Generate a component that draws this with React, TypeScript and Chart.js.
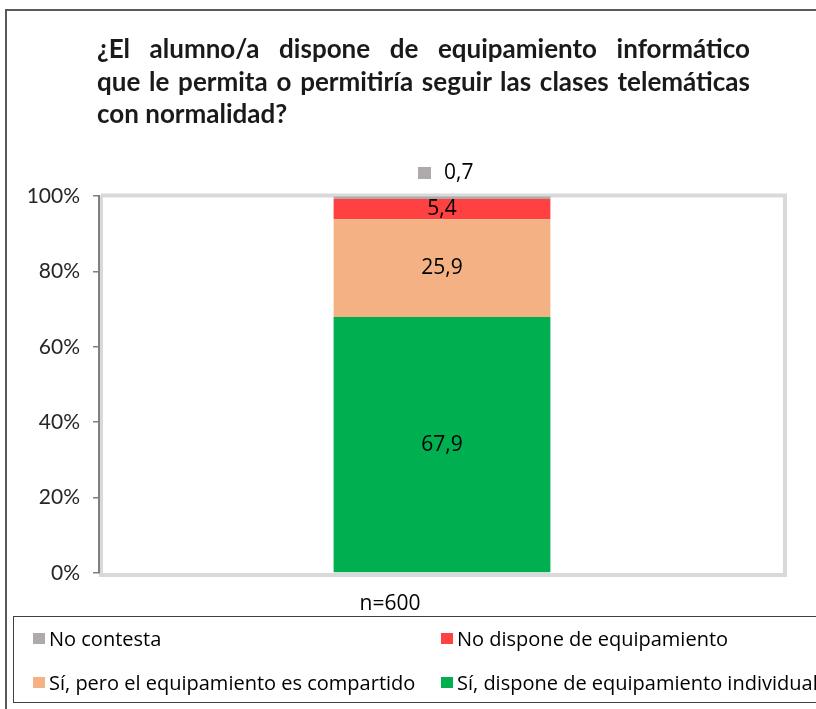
import React, { useEffect, useRef } from "react";
import { Chart, registerables } from "chart.js";

Chart.register(...registerables);

// ---- Data ----
const categories = ["n=600"];
const titleLines = [
  "¿El alumno/a dispone de equipamiento informático",
  "que le permita o permitiría seguir las clases telemáticas",
  "con normalidad?",
];
// stack order bottom -> top
const seriesLabels = [
  "Sí, dispone de equipamiento individual",
  "Sí, pero el equipamiento es compartido",
  "No dispone de equipamiento",
  "No contesta",
];
const individualValues = [67.9];
const compartidoValues = [25.9];
const noDisponeValues = [5.4];
const noContestaValues = [0.7];
const seriesColors = ["#00B050", "#F4B183", "#FF4141", "#AEAAAA"];
const yTickValues = [0, 20, 40, 60, 80, 100];

const fmt = (v: number) => v.toFixed(1).replace(".", ",");

const plotBorderPlugin = {
  id: "plotBorder",
  beforeDraw(chart: any) {
    const { ctx, chartArea } = chart;
    const { left, right, top, bottom } = chartArea;
    ctx.save();
    ctx.strokeStyle = "#D9D9D9";
    ctx.lineWidth = 4;
    ctx.beginPath();
    ctx.moveTo(left + 2, top - 0.5);
    ctx.lineTo(right, top - 0.5);
    ctx.lineTo(right, bottom + 2);
    ctx.lineTo(left + 2, bottom + 2);
    ctx.lineTo(left + 2, top - 0.5);
    ctx.stroke();
    ctx.restore();
  },
};

const dataLabelPlugin = {
  id: "dataLabels",
  afterDatasetsDraw(chart: any) {
    const { ctx, chartArea } = chart;
    ctx.save();
    ctx.font = "21px 'Open Sans', 'Noto Sans', sans-serif";
    ctx.fillStyle = "#000000";
    ctx.textBaseline = "middle";
    chart.data.datasets.forEach((ds: any, i: number) => {
      const meta = chart.getDatasetMeta(i);
      meta.data.forEach((bar: any, j: number) => {
        const v = ds.data[j];
        const txt = fmt(v);
        if (i === chart.data.datasets.length - 1) {
          // small slice: label above the plot with legend key
          const cx = bar.x;
          const cy = chartArea.top - 23;
          ctx.fillStyle = ds.backgroundColor;
          ctx.fillRect(cx - 24, cy - 6, 13, 12);
          ctx.fillStyle = "#000000";
          ctx.textAlign = "left";
          ctx.fillText(txt, cx + 2, cy);
        } else {
          ctx.textAlign = "center";
          const cy = (bar.y + bar.base) / 2;
          ctx.fillText(txt, bar.x, cy);
        }
      });
    });
    ctx.restore();
  },
};

export default function App() {
  const canvasRef = useRef<HTMLCanvasElement | null>(null);

  useEffect(() => {
    if (!canvasRef.current) return;
    const seriesValues = [individualValues, compartidoValues, noDisponeValues, noContestaValues];
    const chart = new Chart(canvasRef.current, {
      type: "bar",
      data: {
        labels: categories,
        datasets: seriesLabels.map((label, i) => ({
          label,
          data: seriesValues[i],
          backgroundColor: seriesColors[i],
          borderWidth: 0,
          barPercentage: 0.316,
          categoryPercentage: 1,
        })),
      },
      options: {
        responsive: false,
        animation: false,
        events: [],
        layout: { padding: { left: 0, top: 196, right: 31, bottom: 0 } },
        plugins: {
          legend: { display: false },
          title: { display: false },
          tooltip: { enabled: false },
        },
        scales: {
          x: {
            stacked: true,
            grid: { display: false, drawTicks: false },
            border: { display: false },
            ticks: {
              padding: 18,
              labelOffset: -52,
              color: "#000000",
              font: { family: "'Open Sans', 'Noto Sans', sans-serif", size: 21 },
            },
            afterFit: (scale: any) => {
              scale.height = 709 - 573;
            },
          },
          y: {
            stacked: true,
            min: 0,
            max: 100,
            afterBuildTicks: (scale: any) => {
              scale.ticks = yTickValues.map((v) => ({ value: v }));
            },
            ticks: {
              padding: 13,
              color: "#262626",
              font: { family: "Lato, sans-serif", size: 21 },
              callback: (v: any) => `${v}%`,
            },
            grid: {
              drawOnChartArea: false,
              drawTicks: true,
              tickLength: 6,
              color: "#7F7F7F",
              lineWidth: 1.5,
            },
            border: { display: true, color: "#7F7F7F", width: 2 },
            afterFit: (scale: any) => {
              scale.width = 99;
            },
          },
        },
      },
      plugins: [plotBorderPlugin, dataLabelPlugin],
    });
    return () => chart.destroy();
  }, []);

  // legend order: reverse of stack, laid out in 2 columns
  const legendOrder = [3, 2, 1, 0];
  const colX = [33, 441];
  const rowY = [638, 682];

  return (
    <div
      style={{
        position: "fixed",
        left: 0,
        top: 0,
        width: 816,
        height: 709,
        background: "#FFFFFF",
        overflow: "hidden",
      }}
    >
      <div
        style={{
          position: "absolute",
          left: 5,
          top: 9,
          width: 900,
          height: 900,
          borderLeft: "2px solid #595959",
          borderTop: "2px solid #595959",
          boxSizing: "border-box",
        }}
      />
      <canvas
        ref={canvasRef}
        width={816}
        height={709}
        style={{ position: "absolute", left: 0, top: 0, width: 816, height: 709 }}
      />
      <div
        style={{
          position: "absolute",
          left: 97,
          top: 32,
          width: 653,
          fontFamily: "Lato, sans-serif",
          fontWeight: 700,
          fontSize: 26,
          lineHeight: "32.5px",
          color: "#1A1A1A",
        }}
      >
        {titleLines.map((line, i) => (
          <div
            key={i}
            style={{
              textAlign: i < titleLines.length - 1 ? "justify" : "left",
              textAlignLast: i < titleLines.length - 1 ? "justify" : "left",
              whiteSpace: "nowrap",
            } as React.CSSProperties}
          >
            {line}
          </div>
        ))}
      </div>
      <div
        style={{
          position: "absolute",
          left: 13,
          top: 616,
          width: 900,
          height: 87,
          border: "1.5px solid #404040",
          boxSizing: "border-box",
        }}
      />
      {legendOrder.map((si, k) => {
        const col = k % 2;
        const row = Math.floor(k / 2);
        return (
          <div
            key={si}
            style={{
              position: "absolute",
              left: colX[col],
              top: rowY[row] - 13,
              height: 26,
              display: "flex",
              alignItems: "center",
              whiteSpace: "nowrap",
              fontFamily: "'Open Sans', 'Noto Sans', sans-serif",
              fontSize: 20,
              color: "#000000",
            }}
          >
            <span
              style={{
                display: "inline-block",
                width: 12,
                height: 11,
                background: seriesColors[si],
                marginRight: 4,
              }}
            />
            <span>{seriesLabels[si]}</span>
          </div>
        );
      })}
    </div>
  );
}
